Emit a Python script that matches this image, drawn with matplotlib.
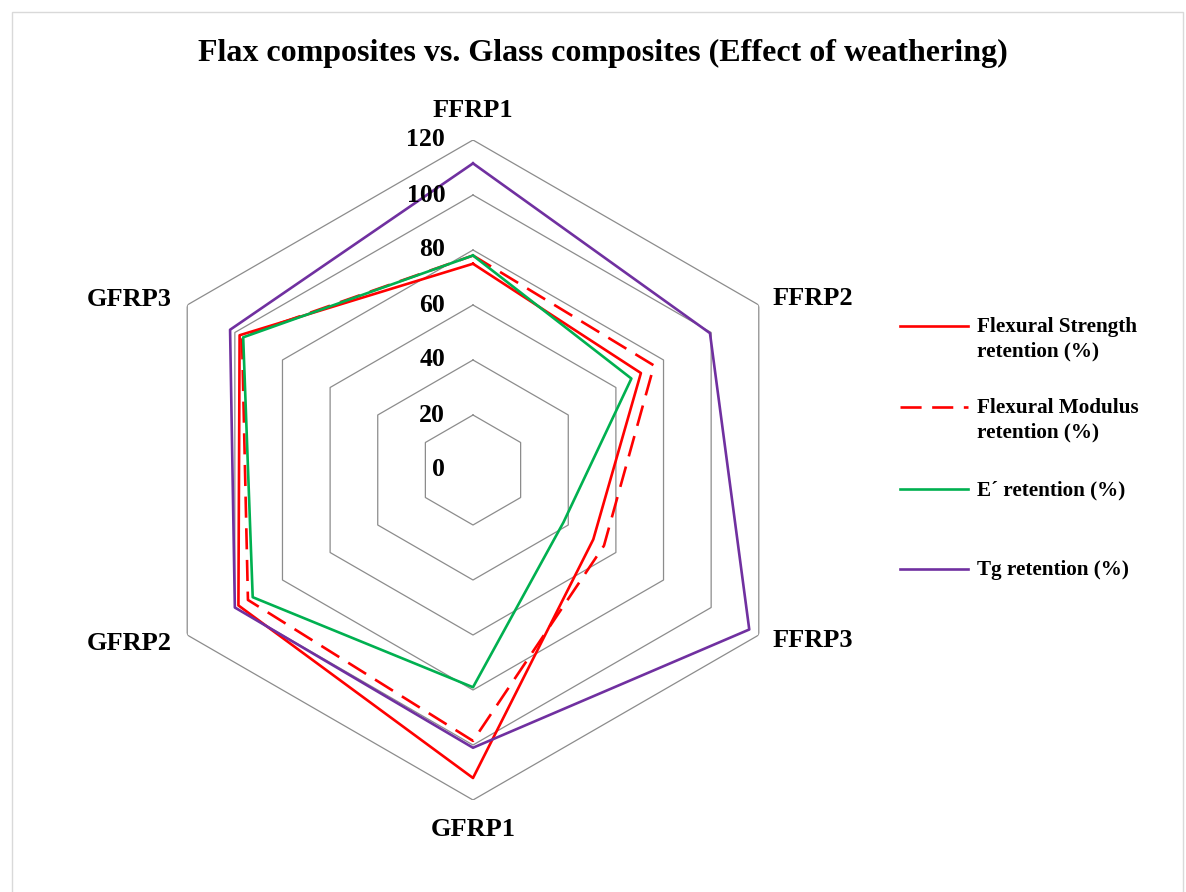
import numpy as np
import matplotlib

matplotlib.use('Agg')

import matplotlib.pyplot as plt
from matplotlib.lines import Line2D
from matplotlib.patches import Rectangle

plt.rcParams['font.family'] = ['Liberation Serif', 'DejaVu Serif']
plt.rcParams['font.weight'] = 'bold'

# Retention values (%) after weathering, one entry per composite
categories = ['FFRP1', 'FFRP2', 'FFRP3', 'GFRP1', 'GFRP2', 'GFRP3']
flex_strength = [75, 70.5, 50.5, 112, 98.5, 98]
flex_modulus = [78, 76, 55, 98.5, 94.5, 97]
e_storage = [78, 66.5, 38, 79, 92.5, 96.5]
tg = [111.5, 99.5, 116, 101, 100, 102]
ring_values = [0, 20, 40, 60, 80, 100, 120]

series = [
    ('Flexural Strength\nretention (%)', flex_strength, '#FF0000', '-'),
    ('Flexural Modulus\nretention (%)', flex_modulus, '#FF0000', (0, (8, 4))),
    ('E\u00b4 retention (%)', e_storage, '#00B050', '-'),
    ('Tg retention (%)', tg, '#7030A0', '-'),
]

W, H = 1186, 892
fig = plt.figure(figsize=(W / 100, H / 100), dpi=100)

# chart area border
fig.add_artist(Rectangle((12 / W, -0.01), (1183 - 12) / W, (H - 12) / H + 0.01,
                         transform=fig.transFigure, fill=False,
                         edgecolor='#D9D9D9', linewidth=1))

fig.text(603 / W, 1 - 53 / H, 'Flax composites vs. Glass composites (Effect of weathering)',
         ha='center', va='center', fontsize=23, fontweight='bold')

# polar axes centred at (473, 470) px with a radius of 330 px
cx, cy, rad = 473, 470, 330
ax = fig.add_axes([(cx - rad) / W, 1 - (cy + rad) / H, 2 * rad / W, 2 * rad / H],
                  projection='polar')
ax.set_theta_zero_location('N')
ax.set_theta_direction(-1)
ax.set_ylim(0, 120)
ax.grid(False)
ax.spines['polar'].set_visible(False)
ax.set_xticks([])
ax.set_yticks([])
ax.patch.set_alpha(0)

n = len(categories)
theta = np.arange(n) * 2 * np.pi / n
theta_closed = np.append(theta, theta[0])

# hexagonal grid rings
for r in ring_values[1:]:
    ax.plot(theta_closed, [r] * (n + 1), color='#8C8C8C', linewidth=0.9, zorder=1)

for label, vals, color, ls in series:
    ax.plot(theta_closed, list(vals) + [vals[0]], color=color, linestyle=ls,
            linewidth=1.9, zorder=3)

# value labels along the top axis
for r in ring_values:
    ax.annotate(str(r), xy=(0, r), xytext=(-20, 0), textcoords='offset points',
                ha='right', va='center', fontsize=18.5, fontweight='bold')

# category labels (offsets in points)
label_offsets = [(0, 21, 'center'), (10, 5, 'left'), (10, -4, 'left'),
                 (0, -21, 'center'), (-11, -6, 'right'), (-11, 4, 'right')]
for t, name, (dx, dy, ha) in zip(theta, categories, label_offsets):
    ax.annotate(name, xy=(t, 120), xytext=(dx, dy), textcoords='offset points',
                ha=ha, va='center', fontsize=19, fontweight='bold')

# legend drawn on the figure
legend_y = [326, 407, 489, 569]
for (label, vals, color, ls), y in zip(series, legend_y):
    fy = 1 - y / H
    fig.add_artist(Line2D([900 / W, 968 / W], [fy, fy], transform=fig.transFigure,
                          color=color, linestyle=ls, linewidth=1.9))
    fig.text(977 / W, 1 - (y - 9) / H, label, ha='left', va='top',
             fontsize=15.2, fontweight='bold', linespacing=1.3)

fig.savefig('out.png', dpi=100)
